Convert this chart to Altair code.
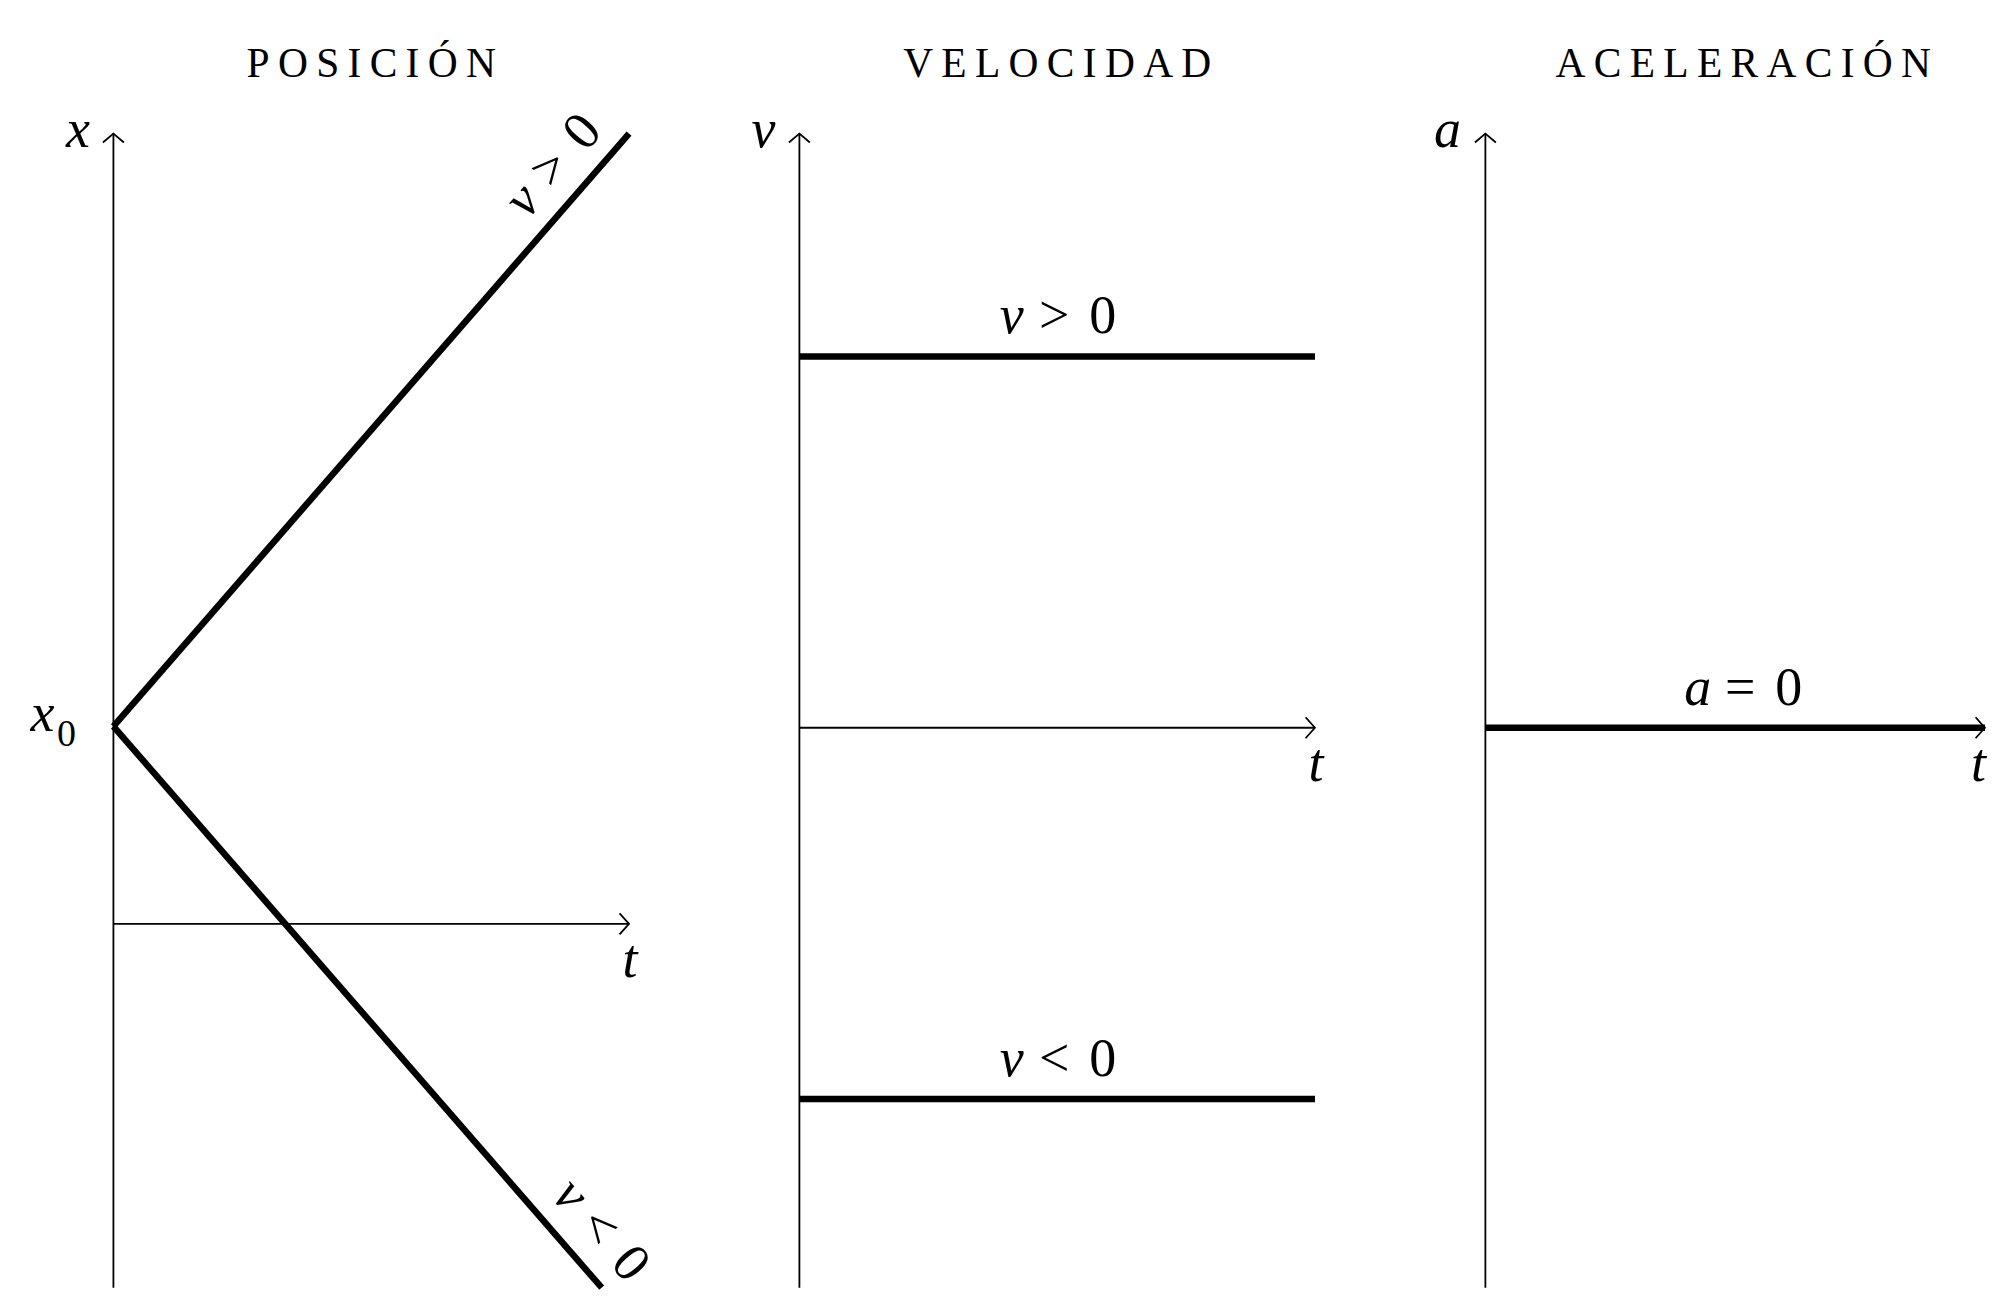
import altair as alt
import pandas as pd

# ---------------- data ----------------
panel_titles = ["POSICIÓN", "VELOCIDAD", "ACELERACIÓN"]
t_values = [0, 1]
x_up = [1, 4]        # x = x0 + |v| t   (v > 0)
x_down = [1, -2]     # x = x0 - |v| t   (v < 0)
v_pos = [1, 1]
v_neg = [-1, -1]
a_zero = [0, 0]
pos_domain = [-1.841, 4]
va_domain = [-1.508, 1.6]
pos_ticks = [0, 1]
va_ticks = [0]

SERIF = "Liberation Serif"
MATH = 54
W, W3, H = 516, 500, 1155
LINE_W = 6.5
AX_W = 1.8
TSP = "\u2009"

UP_ARROW = "M-1,0.85 Q-0.35,0.3 0,0 Q0.35,0.3 1,0.85"
RIGHT_ARROW = "M-0.9,-1 Q-0.32,-0.35 0,0 Q-0.32,0.35 -0.9,1"


def xs():
    return alt.Scale(domain=[0, 1], nice=False, zero=False)


def panel(title, domain, ticks, series, letter, letter_dx, labels, width=W,
          t_align="center", t_dx=1, title_dx=0):
    lo, hi = domain
    ys = alt.Scale(domain=domain, nice=False, zero=False)
    X = lambda f: alt.X(f, type="quantitative", scale=xs(), axis=None)
    Y = lambda f: alt.Y(f, type="quantitative", scale=ys, axis=None)

    expr = "datum.value == 0 ? '0' : ''"
    axis = alt.Axis(values=ticks, labelExpr=expr, domain=False, grid=False,
                    ticks=True, tickSize=25, tickColor="#8f8f8f", tickWidth=1.6,
                    offset=-12.5, labelFont=SERIF, labelFontSize=MATH,
                    labelColor="black", labelPadding=24, title=None)

    layers = []
    vaxis = pd.DataFrame({"t": [0], "lo": [lo], "hi": [hi]})
    layers.append(alt.Chart(vaxis).mark_rule(color="black", strokeWidth=AX_W).encode(
        x=X("t"), y=alt.Y("lo", type="quantitative", scale=ys, axis=axis), y2="hi"))
    haxis = pd.DataFrame({"t0": [t_values[0]], "t1": [t_values[1]], "y": [0]})
    layers.append(alt.Chart(haxis).mark_rule(color="black", strokeWidth=AX_W).encode(
        x=X("t0"), x2="t1", y=Y("y")))
    layers.append(alt.Chart(vaxis).mark_point(shape=UP_ARROW, size=441, filled=False,
                                              stroke="black", strokeWidth=AX_W, opacity=1).encode(
        x=X("t"), y=Y("hi")))
    layers.append(alt.Chart(haxis).mark_point(shape=RIGHT_ARROW, size=441, filled=False,
                                              stroke="black", strokeWidth=AX_W, opacity=1).encode(
        x=X("t1"), y=Y("y")))

    for vals in series:
        df = pd.DataFrame({"t": t_values, "y": vals})
        base = alt.Chart(df)
        y0, y1 = vals
        t0, t1 = t_values
        if y1 != y0:
            # clip the straight segment to the visible y-range (display only)
            yc = f"clamp(datum.y, {lo}, {hi})"
            base = base.transform_calculate(
                yc=yc, tc=f"{t0} + ({yc} - ({y0})) * {(t1 - t0) / (y1 - y0)}")
        else:
            base = base.transform_calculate(yc="datum.y", tc="datum.t")
        layers.append(base.mark_line(color="black", strokeWidth=LINE_W,
                                     strokeCap="butt").encode(
            x=X("tc"), y=Y("yc")))

    def txt(t, y, text, dx, dy, italic=False, size=MATH, angle=0, align="center"):
        df = pd.DataFrame({"t": [t], "y": [y]})
        kw = dict(text=text, font=SERIF, fontSize=size, color="black", align=align,
                  baseline="alphabetic", dx=dx, dy=dy)
        if italic:
            kw["fontStyle"] = "italic"
        if angle:
            kw["angle"] = angle
        return alt.Chart(df).mark_text(**kw).encode(x=X("t"), y=Y("y"))

    # axis names
    layers.append(txt(0, hi, letter, letter_dx, 13, italic=True))
    layers.append(txt(1, 0, "t", t_dx, 53, italic=True, align=t_align))

    for (t, y, parts, angle) in labels:
        for (text, italic, dx, dy, size) in parts:
            layers.append(txt(t, y, text, dx, dy, italic=italic, size=size, angle=angle))

    tp = dict(font=SERIF, fontSize=41.5, fontWeight="normal", color="black",
              anchor="middle", frame="group", offset=18.5)
    if title_dx:
        tp["dx"] = title_dx
    return alt.layer(*layers).properties(
        width=width, height=H,
        title=alt.TitleParams(TSP.join(list(title)), **tp))


def rel(sym, dy, var="v", val="0", shift=0):
    return [(var, True, -45.5 + shift, dy, MATH), (sym, False, -3 + shift, dy, MATH),
            (val, False, 45.5 + shift, dy, MATH)]


p1 = panel(panel_titles[0], pos_domain, pos_ticks,
           [x_up, x_down], "x", -35.5,
           [(0.905, 1 + 3 * 0.905, rel(">", -20), 311),
            (0.89, 1 - 3 * 0.89, rel("<", -21), 49),
            (0, 1, [("x", True, -71, 5, 54), ("0", False, -47, 20, 38)], 0)])
p2 = panel(panel_titles[1], va_domain, va_ticks,
           [v_pos, v_neg], "v", -36,
           [(0.5, 1, rel(">", -23), 0), (0.5, -1, rel("<", -23), 0)])
p3 = panel(panel_titles[2], va_domain, va_ticks,
           [a_zero], "a", -38,
           [(0.5, 0, rel("=", -23, "a", shift=8), 0)], width=W3,
           t_align="right", t_dx=1, title_dx=8)

chart = alt.hconcat(p1, p2, p3, spacing=170.5, bounds="flush").properties(
    padding={"left": 22.5, "top": 35.2, "right": 0, "bottom": 0},
    background="white",
).configure_view(strokeWidth=0)

chart.save("out.html", embed_options={"renderer": "svg", "actions": False})
